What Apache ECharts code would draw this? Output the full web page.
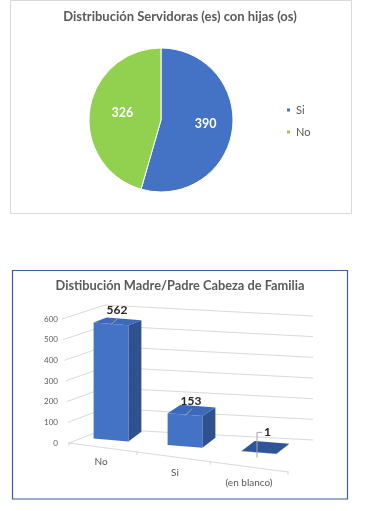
<!DOCTYPE html>
<html>
<head>
<meta charset="utf-8">
<script src="https://cdn.jsdelivr.net/npm/echarts@6/dist/echarts.min.js"></script>
<style>
html,body{margin:0;padding:0;background:#fff;}
#c{width:370px;height:511px;}
</style>
</head>
<body>
<div id="c"></div>
<script>
// ---- data ----
const pieTitle = 'Distribución Servidoras (es) con hijas (os)';
const pieCategories = ['Si', 'No'];
const pieValues = [390, 326];

const barTitle = 'Distibución Madre/Padre Cabeza de Familia';
const barCategories = ['No', 'Si', '(en blanco)'];
const barValues = [562, 153, 1];
const yTicks = [0, 100, 200, 300, 400, 500, 600];

// ---- chart ----
const FONT = 'Lato, "Liberation Sans", sans-serif';
const chart = echarts.init(document.getElementById('c'), null, {renderer: 'canvas'});
const yMax = yTicks[yTicks.length - 1];
const pieOffsets = [[6, -1], [0, -2]];

function gridItem(params, api) {
  const v = api.value(1);
  const p = api.coord([0, v]);
  const cs = params.coordSys;
  const gx = cs.x;
  const y = p[1];
  const xl = gx - 2 + (1 - v / yMax) * 7;
  const children = [{
    type: 'polyline',
    shape: {points: [[xl, y], [gx + 41, y - 14], [gx + 249, y - 3]]},
    style: {stroke: '#D9D9D9', lineWidth: 1, fill: null}
  }];
  if (v === 0) {
    const x0 = gx + 5, x1 = gx + 224, y0 = y, y1 = y + 29;
    children.push({type: 'line', shape: {x1: x0, y1: y0, x2: x1, y2: y1},
      style: {stroke: '#D9D9D9', lineWidth: 1}});
    const tks = [0, 0.31, 0.645, 1];
    tks.forEach(t => {
      const tx = x0 + (x1 - x0) * t, ty = y0 + (y1 - y0) * t;
      children.push({type: 'line', shape: {x1: tx, y1: ty - 1, x2: tx, y2: ty + 3},
        style: {stroke: '#D9D9D9', lineWidth: 1}});
    });
  }
  return {type: 'group', children};
}

function barItem(params, api) {
  const i = api.value(0), v = api.value(1);
  const cs = params.coordSys;
  const c0 = api.coord([i, 0]);
  const c1 = api.coord([i, v]);
  const bw = api.size([1, 0])[0];
  const cx = c0[0] + 10;
  const hw = bw * 0.47 / 2;
  const shift = -3 + (cx - cs.x - 47) * 0.085;
  const yb = c0[1] + shift, yt = c1[1] + shift;
  const s = 0.08;
  const xl = cx - hw, xr = cx + hw;
  const yTL = yt - s * hw, yTR = yt + s * hw, yBL = yb - s * hw, yBR = yb + s * hw;
  const dx = 13;
  const dyt = -5 - (yt - cs.y - 6) * 0.04;
  const dyb = -5 - (yb - cs.y - 6) * 0.04;
  const children = [];
  children.push({type: 'polygon', shape: {points: [[xr, yTR], [xr + dx, yTR + dyt], [xr + dx, yBR + dyb], [xr, yBR]]},
    style: {fill: '#2F528F', stroke: null}});
  children.push({type: 'polygon', shape: {points: [[xl, yTL], [xr, yTR], [xr, yBR], [xl, yBL]]},
    style: {fill: '#4472C4', stroke: null}});
  children.push({type: 'polygon', shape: {points: [[xl, yTL], [xr, yTR], [xr + dx, yTR + dyt], [xl + dx, yTL + dyt]]},
    style: {fill: (yb - yt > 5) ? '#3D69BA' : '#2F5597', stroke: null}});
  const labStyle = {fill: '#262626', font: 'bold 12px ' + FONT};
  if (yb - yt > 5) {
    children.push({type: 'line', shape: {x1: cx, y1: yt + 1, x2: cx + 7, y2: yt - 6},
      style: {stroke: '#A6A6A6', lineWidth: 1}});
    children.push({type: 'text', x: cx + 6, y: yt - 14,
      style: Object.assign({text: String(v), align: 'center', verticalAlign: 'middle'}, labStyle)});
  } else {
    children.push({type: 'polyline', shape: {points: [[cx - 2, yb + 5], [cx - 2, yt - 20], [cx + 3, yt - 20]]},
      style: {stroke: '#A6A6A6', lineWidth: 1, fill: null}});
    children.push({type: 'text', x: cx + 5, y: yt - 20,
      style: Object.assign({text: String(v), align: 'left', verticalAlign: 'middle'}, labStyle)});
  }
  // category label
  children.push({type: 'text', x: c0[0], y: c0[1] + 19 + (c0[0] - cs.x - 37) * 0.14,
    style: {text: barCategories[i], align: 'center', verticalAlign: 'middle',
      fill: '#595959', font: '10px ' + FONT}});
  return {type: 'group', children};
}

const option = {
  animation: false,
  backgroundColor: '#fff',
  title: [
    {text: pieTitle, left: 180, top: 10, textAlign: 'center', padding: 0,
      textStyle: {fontFamily: FONT, fontSize: 13, fontWeight: 'bold', color: '#595959'}},
    {text: barTitle, left: 180, top: 279, textAlign: 'center', padding: 0,
      textStyle: {fontFamily: FONT, fontSize: 12.8, fontWeight: 'bold', color: '#595959'}}
  ],
  legend: {
    data: pieCategories, orient: 'vertical', left: 285, top: 103.5, padding: 0,
    itemWidth: 5, itemHeight: 5, itemGap: 9, icon: 'rect',
    textStyle: {fontFamily: FONT, fontSize: 11, color: '#595959', lineHeight: 13}
  },
  graphic: [
    {type: 'rect', shape: {x: 10.5, y: 0.5, width: 341, height: 213}, style: {fill: null, stroke: '#D9D9D9', lineWidth: 1}, silent: true},
    {type: 'rect', shape: {x: 12.5, y: 270.5, width: 335, height: 228.5}, style: {fill: null, stroke: '#3A5DA0', lineWidth: 1.2}, silent: true}
  ],
  grid: {left: 64, right: 84, top: 319, bottom: 68},
  xAxis: {type: 'category', data: barCategories, axisLabel: {show: false}, axisLine: {show: false}, axisTick: {show: false}},
  yAxis: {type: 'value', min: 0, max: yMax, interval: 100,
    axisLabel: {fontFamily: FONT, fontSize: 8, color: '#595959', margin: 6},
    splitLine: {show: false}, axisLine: {show: false}, axisTick: {show: false}},
  series: [
    {
      type: 'pie', center: [161, 120], radius: 72, startAngle: 90, clockwise: true,
      color: ['#4472C4', '#92D050'],
      itemStyle: {borderColor: '#fff', borderWidth: 1},
      label: {show: true, position: 'inside', formatter: '{c}', color: '#fff',
        fontFamily: FONT, fontSize: 12.5, fontWeight: 'bold'},
      labelLine: {show: false},
      data: pieCategories.map((n, i) => ({name: n, value: pieValues[i], label: {offset: pieOffsets[i]}}))
    },
    {
      type: 'custom', coordinateSystem: 'cartesian2d', silent: true, clip: false, z: 1,
      renderItem: gridItem, encode: {x: 0, y: 1},
      data: yTicks.map(v => [0, v])
    },
    {
      type: 'custom', coordinateSystem: 'cartesian2d', silent: true, clip: false, z: 2,
      renderItem: barItem, encode: {x: 0, y: 1},
      data: barValues.map((v, i) => [i, v])
    }
  ]
};
chart.setOption(option);
</script>
</body>
</html>
